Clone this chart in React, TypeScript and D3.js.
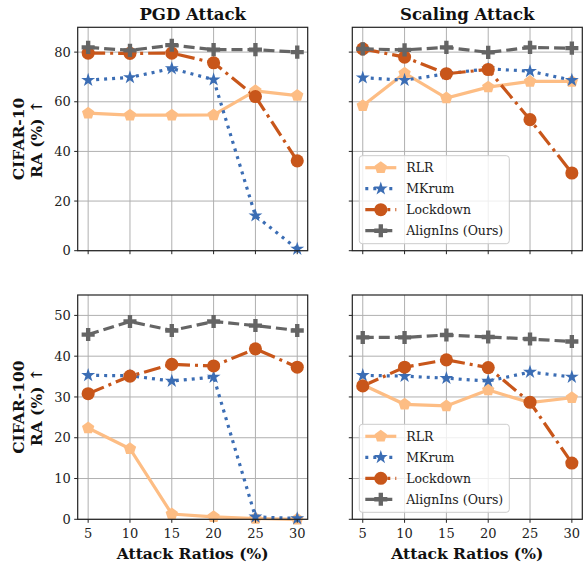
import * as d3 from "d3";
import * as React from "react";

// attack ratios (%)
const ratios = [5, 10, 15, 20, 25, 30];

const methods = ["RLR", "MKrum", "Lockdown", "AlignIns (Ours)"];

// CIFAR-10, PGD attack
const c10PgdRLR = [55.4, 54.6, 54.6, 54.7, 64.4, 62.5];
const c10PgdMKrum = [68.7, 69.8, 73.4, 68.9, 14.1, 0.7];
const c10PgdLockdown = [79.6, 79.5, 79.6, 75.7, 62.1, 36.2];
const c10PgdAlignIns = [81.9, 80.7, 82.8, 81.0, 81.0, 80.0];

// CIFAR-10, scaling attack
const c10ScaleRLR = [58.4, 71.5, 61.5, 65.9, 68.2, 68.2];
const c10ScaleMKrum = [69.7, 68.7, 71.3, 73.3, 72.3, 68.7];
const c10ScaleLockdown = [81.3, 78.0, 71.3, 73.0, 52.8, 31.3];
const c10ScaleAlignIns = [81.3, 80.9, 81.9, 79.9, 81.9, 81.6];

// CIFAR-100, PGD attack
const c100PgdRLR = [22.4, 17.3, 1.3, 0.6, 0.2, 0.0];
const c100PgdMKrum = [35.3, 35.2, 33.9, 34.9, 0.6, 0.2];
const c100PgdLockdown = [30.8, 35.1, 38.0, 37.6, 41.8, 37.3];
const c100PgdAlignIns = [45.3, 48.5, 46.3, 48.5, 47.5, 46.3];

// CIFAR-100, scaling attack
const c100ScaleRLR = [33.0, 28.2, 27.8, 31.7, 28.6, 29.8];
const c100ScaleMKrum = [35.3, 35.1, 34.6, 33.9, 36.1, 34.9];
const c100ScaleLockdown = [32.7, 37.3, 39.1, 37.2, 28.7, 13.8];
const c100ScaleAlignIns = [44.6, 44.6, 45.2, 44.7, 44.2, 43.6];

const c10Ticks = [0, 20, 40, 60, 80];
const c100Ticks = [0, 10, 20, 30, 40, 50];

const colors = ["#fdbd84", "#3b6db4", "#c8561a", "#656565"];
const dashes = ["none", "3 5", "17 5 3 5", "11 5"];

const pentagon = {
  draw(ctx: any, size: number) {
    const r = Math.sqrt(size / 2.378);
    for (let i = 0; i < 5; i++) {
      const a = -Math.PI / 2 + (i * 2 * Math.PI) / 5;
      const px = r * Math.cos(a);
      const py = r * Math.sin(a);
      if (i === 0) ctx.moveTo(px, py);
      else ctx.lineTo(px, py);
    }
    ctx.closePath();
  },
};

const symbols = [
  d3.symbol(pentagon, 100)(),
  d3.symbol(d3.symbolStar, 60)(),
  d3.symbol(d3.symbolCircle, 135)(),
  d3.symbol(d3.symbolCross, 95)(),
];

const fontSerif = "'DejaVu Serif', serif";

const leftX = [77.7, 307.7];
const rightX = [352.3, 582.3];
const topY = [27.3, 250.7];
const botY = [295, 519.3];

interface PanelProps {
  xr: number[];
  yr: number[];
  ymax: number;
  ticks: number[];
  series: number[][];
  showY: boolean;
  showX: boolean;
  legend: boolean;
}

function Panel({ xr, yr, ymax, ticks, series, showY, showX, legend }: PanelProps) {
  const x = d3.scaleLinear([3.75, 31.25], xr);
  const y = d3.scaleLinear([0, ymax], [yr[1], yr[0]]);
  const line = d3
    .line<number>()
    .x((_, i) => x(ratios[i]))
    .y((d) => y(d));
  const lx = xr[0] + 7;
  const ly = yr[1] - 95;
  return (
    <g>
      {ratios.map((r) => (
        <line key={"gx" + r} x1={x(r)} x2={x(r)} y1={yr[0]} y2={yr[1]} stroke="#b0b0b0" strokeWidth={1} />
      ))}
      {ticks.map((t) => (
        <line key={"gy" + t} x1={xr[0]} x2={xr[1]} y1={y(t)} y2={y(t)} stroke="#b0b0b0" strokeWidth={1} />
      ))}
      {series.map((s, k) => (
        <path
          key={"l" + k}
          d={line(s) ?? ""}
          fill="none"
          stroke={colors[k]}
          strokeWidth={3.2}
          strokeDasharray={dashes[k]}
        />
      ))}
      {series.map((s, k) =>
        s.map((v, i) => (
          <path
            key={"m" + k + "-" + i}
            d={symbols[k] ?? ""}
            transform={`translate(${x(ratios[i])},${y(v)})`}
            fill={colors[k]}
          />
        ))
      )}
      <rect x={xr[0]} y={yr[0]} width={xr[1] - xr[0]} height={yr[1] - yr[0]} fill="none" stroke="#222" strokeWidth={1.2} />
      {ticks.map((t) => (
        <line key={"ty" + t} x1={xr[0] - 3.5} x2={xr[0]} y1={y(t)} y2={y(t)} stroke="#222" />
      ))}
      {ratios.map((r) => (
        <line key={"tx" + r} x1={x(r)} x2={x(r)} y1={yr[1]} y2={yr[1] + 3.5} stroke="#222" />
      ))}
      {showY &&
        ticks.map((t) => (
          <text key={"ly" + t} x={xr[0] - 7} y={y(t)} dy="0.35em" textAnchor="end" fontSize={13} fontFamily={fontSerif} fill="#222">
            {t}
          </text>
        ))}
      {showX &&
        ratios.map((r) => (
          <text key={"lx" + r} x={x(r)} y={yr[1] + 19} textAnchor="middle" fontSize={13} fontFamily={fontSerif} fill="#222">
            {r}
          </text>
        ))}
      {showX && (
        <text x={(xr[0] + xr[1]) / 2} y={yr[1] + 40} textAnchor="middle" fontSize={15.5} fontWeight="bold" fontFamily={fontSerif} fill="#111">
          Attack Ratios (%)
        </text>
      )}
      {legend && (
        <g>
          <rect x={lx} y={ly} width={150} height={88} rx={3} fill="white" fillOpacity={0.8} stroke="#cccccc" />
          {methods.map((m, k) => {
            const yy = ly + 12 + k * 21;
            return (
              <g key={"lg" + k}>
                <line x1={lx + 6} x2={lx + 37} y1={yy} y2={yy} stroke={colors[k]} strokeWidth={3.2} strokeDasharray={dashes[k]} />
                <path d={symbols[k] ?? ""} transform={`translate(${lx + 21.5},${yy})`} fill={colors[k]} />
                <text x={lx + 47} y={yy} dy="0.35em" fontSize={12.5} fontFamily={fontSerif} fill="#222">
                  {m}
                </text>
              </g>
            );
          })}
        </g>
      )}
    </g>
  );
}

export default function App() {
  return (
    <svg width={584} height={566} viewBox="0 0 584 566" style={{ display: "block", position: "absolute", left: 0, top: 0 }}>
      <rect width={584} height={566} fill="white" />
      <text x={(leftX[0] + leftX[1]) / 2} y={20} textAnchor="middle" fontSize={16.5} fontWeight="bold" fontFamily={fontSerif} fill="#111">
        PGD Attack
      </text>
      <text x={(rightX[0] + rightX[1]) / 2} y={20} textAnchor="middle" fontSize={16.5} fontWeight="bold" fontFamily={fontSerif} fill="#111">
        Scaling Attack
      </text>
      {[
        { yr: topY, l1: "CIFAR-10" },
        { yr: botY, l1: "CIFAR-100" },
      ].map((d) => {
        const cy = (d.yr[0] + d.yr[1]) / 2;
        return (
          <g key={d.l1}>
            <text transform={`translate(24,${cy}) rotate(-90)`} textAnchor="middle" fontSize={15.5} fontWeight="bold" fontFamily={fontSerif} fill="#111">
              {d.l1}
            </text>
            <text transform={`translate(42,${cy}) rotate(-90)`} textAnchor="middle" fontSize={15.5} fontWeight="bold" fontFamily={fontSerif} fill="#111">
              RA (%) ↑
            </text>
          </g>
        );
      })}
      <Panel xr={leftX} yr={topY} ymax={90} ticks={c10Ticks} series={[c10PgdRLR, c10PgdMKrum, c10PgdLockdown, c10PgdAlignIns]} showY showX={false} legend={false} />
      <Panel xr={rightX} yr={topY} ymax={90} ticks={c10Ticks} series={[c10ScaleRLR, c10ScaleMKrum, c10ScaleLockdown, c10ScaleAlignIns]} showY={false} showX={false} legend />
      <Panel xr={leftX} yr={botY} ymax={55} ticks={c100Ticks} series={[c100PgdRLR, c100PgdMKrum, c100PgdLockdown, c100PgdAlignIns]} showY showX legend={false} />
      <Panel xr={rightX} yr={botY} ymax={55} ticks={c100Ticks} series={[c100ScaleRLR, c100ScaleMKrum, c100ScaleLockdown, c100ScaleAlignIns]} showY={false} showX legend />
    </svg>
  );
}
